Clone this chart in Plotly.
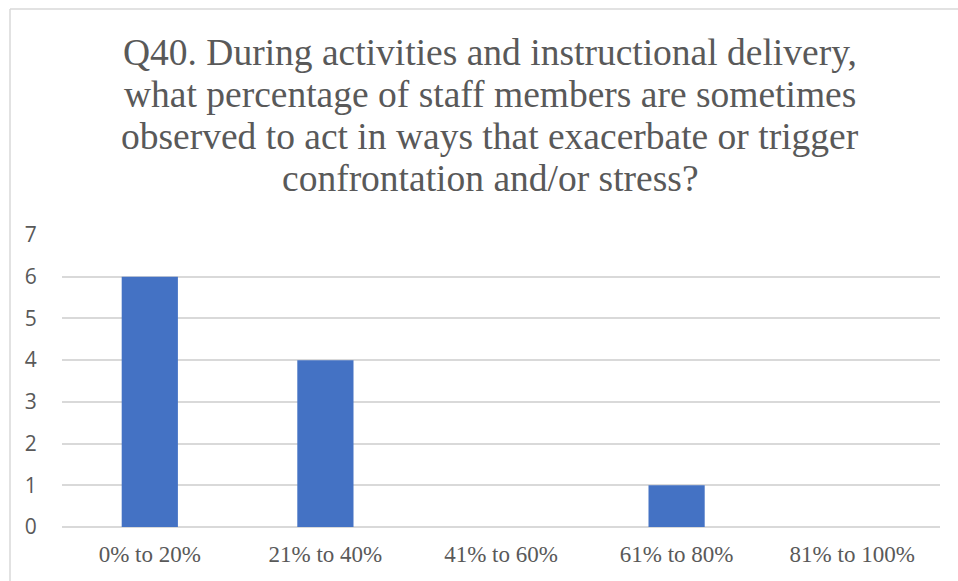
import plotly.graph_objects as go

categories = ["0% to 20%", "21% to 40%", "41% to 60%", "61% to 80%", "81% to 100%"]
values = [6, 4, 0, 1, 0]
title_lines = [
    "Q40. During activities and instructional delivery,",
    "what percentage of staff members are sometimes",
    "observed to act in ways that exacerbate or trigger",
    "confrontation and/or stress?",
]

W, H = 958, 581
L, R, T, B = 62, 18, 235, 54
plot_h = H - T - B
plot_w = W - L - R

def py(p):
    return (H - B - p) / plot_h

def px(p):
    return (p - L) / plot_w

fig = go.Figure(go.Bar(
    x=categories, y=values, marker=dict(color="#4472C4", line=dict(width=0)),
    width=0.32,
))

annotations = []
centers = [52, 94, 136, 179]
for line, c in zip(title_lines, centers):
    annotations.append(dict(
        text=line, xref="paper", yref="paper", x=px(490), y=py(c),
        xanchor="center", yanchor="middle", showarrow=False,
        font=dict(family="Liberation Serif", size=37.5, color="#595959"),
    ))

grey = "#D9D9D9"
shapes = [
    dict(type="line", xref="paper", yref="paper", x0=px(10), x1=px(W + 5),
         y0=py(9), y1=py(9), line=dict(color=grey, width=1.5)),
    dict(type="line", xref="paper", yref="paper", x0=px(10), x1=px(10),
         y0=py(9), y1=py(H + 5), line=dict(color=grey, width=1.5)),
]

fig.update_layout(
    width=W, height=H,
    margin=dict(l=L, r=R, t=T, b=B, autoexpand=False),
    paper_bgcolor="white", plot_bgcolor="white",
    showlegend=False,
    annotations=annotations,
    shapes=shapes,
    xaxis=dict(
        showgrid=False, showline=False, zeroline=False,
        tickfont=dict(family="Liberation Serif", size=23, color="#595959"),
        ticks="outside", ticklen=6, tickcolor="rgba(0,0,0,0)",
    ),
    yaxis=dict(
        range=[0, 7], dtick=1, showgrid=True, gridcolor=grey, gridwidth=1.5,
        zeroline=True, zerolinecolor=grey, zerolinewidth=1.5, showline=False,
        tickfont=dict(family="Open Sans", size=21, color="#595959"),
        ticks="outside", ticklen=20, tickcolor="rgba(0,0,0,0)",
    ),
)

fig.write_html("out.html")
